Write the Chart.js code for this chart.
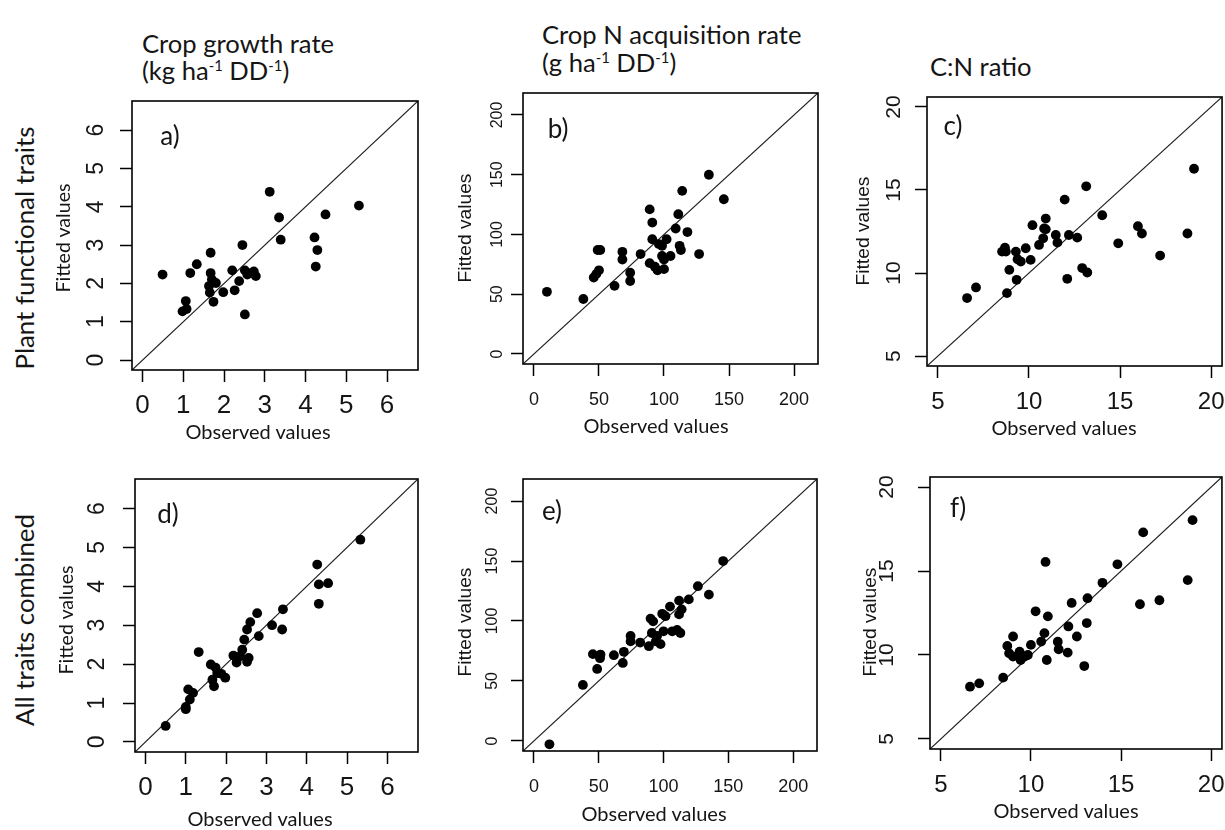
<!DOCTYPE html>
<html><head><meta charset="utf-8">
<script src="https://cdn.jsdelivr.net/npm/chart.js@4.4.1/dist/chart.umd.min.js"></script>
<style>
html,body{margin:0;padding:0;background:#fff;}
body{width:1225px;height:830px;overflow:hidden;position:relative;}
canvas.pc{position:absolute;}
.t{position:absolute;white-space:nowrap;color:#151515;line-height:1;}
.t sup{font-size:0.58em;vertical-align:0.6em;line-height:0;}
</style></head><body>
<script>
// ---- data ----
const obsA = [0.49,1.17,1.33,0.98,1.06,1.08,1.67,1.67,1.70,1.63,1.80,1.65,1.74,1.98,2.20,2.26,2.37,2.45,2.51,2.51,2.57,2.73,2.78,2.65,3.12,3.35,3.39,4.22,4.29,4.25,4.49,5.31];
const fitA = [2.23,2.27,2.50,1.27,1.54,1.33,2.80,2.27,2.10,1.93,2.01,1.76,1.52,1.77,2.34,1.82,2.06,3.00,2.34,1.19,2.23,2.31,2.19,2.27,4.39,3.72,3.14,3.20,2.87,2.44,3.80,4.03];
const obsD = [0.50,1.00,1.00,1.06,1.10,1.18,1.32,1.62,1.66,1.70,1.74,1.78,1.88,1.98,2.18,2.26,2.35,2.40,2.45,2.52,2.56,2.52,2.60,2.77,2.81,3.14,3.39,3.41,4.26,4.30,4.30,4.53,5.33];
const fitD = [0.41,0.84,0.90,1.35,1.09,1.26,2.31,1.99,1.60,1.43,1.91,1.77,1.75,1.65,2.22,2.04,2.20,2.37,2.63,2.06,2.16,2.89,3.08,3.31,2.72,3.00,2.89,3.41,4.56,4.05,3.55,4.08,5.20];
const obsB = [10,38,46,49,51,50,48,62,68,68,74,74,82,89,89,91,91,93,95,96,98.5,98.5,100,100,102,105,109,111,112,113,114,118,127,134.5,146];
const fitB = [52,46,64,87,87,70,67,57,85.5,79,68,61,83.6,76,121,110,96,73,70,92,90.5,82,79,71,96,82,105,117,90.5,87,136.5,102,83.6,150,129.5];
const obsE = [12,37.8,45.5,48.8,51,51.4,61.7,68.6,69.4,74.6,74.6,82,88.7,90,92,91,94,95,97.7,99,100,101.5,105,106.7,110.5,112,112,114,113,119.5,126.5,135,146];
const fitE = [-2.8,46.7,72.4,60,69,72,71.5,65,74.3,87.5,83,82,79,102,99.7,90,83,87.5,80.7,106,91.4,104,112,91.4,92.5,117,105.5,109.7,90,118,129,122,150];
const obsC = [6.6,7.09,8.52,8.68,8.79,8.92,8.73,9.28,9.32,9.37,9.55,9.82,10.09,10.19,10.55,10.78,10.83,10.92,10.92,11.47,11.56,11.96,12.19,12.1,12.65,12.92,13.2,13.14,14.02,14.9,15.98,16.2,17.2,18.7,19.06];
const fitC = [8.49,9.13,11.29,11.53,8.79,10.19,11.29,11.29,9.59,10.83,10.69,11.49,10.79,12.88,11.69,12.09,12.68,13.28,12.64,12.29,11.83,14.42,12.29,9.65,12.13,10.3,10.03,15.22,13.48,11.79,12.82,12.38,11.05,12.38,16.28];
const obsF = [6.62,7.13,8.46,8.69,8.79,9.01,9.01,9.37,9.43,9.65,9.83,10.0,10.26,10.57,10.75,10.81,10.88,10.94,11.49,11.54,12.04,12.08,12.26,12.55,12.96,13.1,13.14,13.97,14.8,16.05,16.23,17.13,18.7,18.97];
const fitF = [8.11,8.31,8.65,10.54,10.1,11.1,9.9,10.2,9.7,9.9,10.0,10.6,12.6,10.8,11.3,15.54,9.7,12.3,10.79,10.34,10.14,11.7,13.1,11.1,9.34,11.9,13.38,14.3,15.4,13.02,17.3,13.26,14.46,18.03];

const ticksA = [0,1,2,3,4,5,6];
const ticksB = [0,50,100,150,200];
const ticksC = [5,10,15,20];
const limA = [-0.26, 6.76];
const limB = [-8.4, 218.4];
const limC = [4.4, 20.6];

const panelLabels = ['a)','b)','c)','d)','e)','f)'];
const rowLabels = ['Plant functional traits','All traits combined'];
const xTitle = 'Observed values';
const yTitle = 'Fitted values';

// ---- layout ----
const CAL = 'Lato, "Open Sans", sans-serif';
const ARI = '"Liberation Sans", Arial, sans-serif';
const PADL = 60, PADT = 10, PADR = 14, PADB = 60;

const panels = [
  {box:[132,101,418,370], obs:obsA, fit:fitA, lim:limA, ticks:ticksA, xFont:26, yFont:23, yOff:-35, lab:[170,135],
   xt:[258,431], yt:[63,238,CAL]},
  {box:[523,93,818,364], obs:obsB, fit:fitB, lim:limB, ticks:ticksB, xFont:18, yFont:16, yOff:-25, lab:[558,128],
   xt:[656,425], yt:[465,228,ARI]},
  {box:[927,97,1223,366], obs:obsC, fit:fitC, lim:limC, ticks:ticksC, xFont:24, yFont:21, yOff:-33, lab:[953,125],
   xt:[1064,427], yt:[863,231,ARI]},
  {box:[135,479,418,752], obs:obsD, fit:fitD, lim:limA, ticks:ticksA, xFont:26, yFont:23, yOff:-37, lab:[168,513],
   xt:[260,818], yt:[66,620,CAL]},
  {box:[523,479,817,751], obs:obsE, fit:fitE, lim:limB, ticks:ticksB, xFont:18, yFont:16, yOff:-30, lab:[552,510],
   xt:[654,813], yt:[465,622,ARI]},
  {box:[930,477,1223,749], obs:obsF, fit:fitF, lim:limC, ticks:ticksC, xFont:24, yFont:21, yOff:-43, lab:[958,507],
   xt:[1066,810], yt:[870,622,ARI]}
];

const framePlugin = {
  id:'frame',
  afterDraw(chart, args, o){
    const ctx = chart.ctx, a = chart.chartArea, ys = chart.scales.y;
    ctx.save();
    ctx.strokeStyle = '#000'; ctx.lineWidth = 1.6;
    ctx.strokeRect(a.left, a.top, a.right - a.left, a.bottom - a.top);
    ctx.fillStyle = '#151515';
    ctx.font = o.yFont + 'px ' + ARI;
    ctx.textAlign = 'center'; ctx.textBaseline = 'middle';
    ys.ticks.forEach(t => {
      const py = ys.getPixelForValue(t.value);
      ctx.save();
      ctx.translate(a.left + o.yOff, py);
      ctx.rotate(-Math.PI/2);
      ctx.fillText(String(t.value), 0, 0);
      ctx.restore();
    });
    ctx.restore();
  }
};

function makePanel(p){
  const [l,t,r,b] = p.box;
  const cv = document.createElement('canvas');
  cv.className = 'pc';
  const W = (r-l) + PADL + PADR, H = (b-t) + PADT + PADB;
  cv.width = W; cv.height = H;
  cv.style.left = (l-PADL)+'px'; cv.style.top = (t-PADT)+'px';
  cv.style.width = W+'px'; cv.style.height = H+'px';
  document.body.appendChild(cv);
  const pts = p.obs.map((x,i)=>({x:x, y:p.fit[i]}));
  const diag = [{x:p.lim[0], y:p.lim[0]}, {x:p.lim[1], y:p.lim[1]}];
  const gridOpt = {drawOnChartArea:false, drawTicks:true, tickLength:12, tickColor:'#000', tickWidth:1.5, color:'#000'};
  new Chart(cv, {
    type:'scatter',
    data:{datasets:[
      {data:diag, showLine:true, borderColor:'#1e1e1e', borderWidth:1.2, pointRadius:0, order:2},
      {data:pts, backgroundColor:'#000', borderColor:'#000', pointRadius:4.9, pointBorderWidth:0, order:1}
    ]},
    options:{
      responsive:false, animation:false, devicePixelRatio:1, events:[],
      layout:{padding:{left:0, top:PADT, right:PADR, bottom:0}},
      plugins:{legend:{display:false}, tooltip:{enabled:false}, frame:{yOff:p.yOff, yFont:p.yFont}},
      scales:{
        x:{type:'linear', bounds:'data', min:p.lim[0], max:p.lim[1],
           afterBuildTicks:s=>{ s.ticks = p.ticks.map(v=>({value:v})); },
           afterFit:s=>{ s.height = PADB; },
           ticks:{font:{family:ARI, size:p.xFont, lineHeight:1}, color:'#151515', padding:36-12-p.xFont/2,
                  maxRotation:0, minRotation:0, autoSkip:false, callback:v=>String(v)},
           grid:gridOpt, border:{display:false}},
        y:{type:'linear', bounds:'data', min:p.lim[0], max:p.lim[1],
           afterBuildTicks:s=>{ s.ticks = p.ticks.map(v=>({value:v})); },
           afterFit:s=>{ s.width = PADL; },
           ticks:{display:false},
           grid:gridOpt, border:{display:false}}
      }
    },
    plugins:[framePlugin]
  });
}

function txt(html, x, y, font, size, opt){
  opt = opt || {};
  const d = document.createElement('div');
  d.className = 't';
  d.innerHTML = html;
  d.style.fontFamily = font;
  d.style.left = x+'px'; d.style.top = y+'px';
  document.body.appendChild(d);
  if (opt.w){ d.style.fontSize = '100px'; const w0 = d.offsetWidth; size = 100*opt.w/w0; }
  d.style.fontSize = size+'px';
  let tr = opt.left ? 'translate(0,-50%)' : 'translate(-50%,-50%)';
  if (opt.rot) tr += ' rotate(-90deg)';
  d.style.transform = tr;
  return size;
}

panels.forEach(makePanel);

// row labels
const rs = txt(rowLabels[0], 25, 248, CAL, 0, {w:243, rot:true});
txt(rowLabels[1], 25, 620, CAL, rs, {rot:true});
// column titles
const ts = txt('Crop growth rate', 142, 44, CAL, 0, {left:true, w:192});
txt('(kg ha<sup>-1</sup> DD<sup>-1</sup>)', 142, 71, CAL, ts, {left:true});
txt('Crop N acquisition rate', 542, 35, CAL, ts, {left:true});
txt('(g ha<sup>-1</sup> DD<sup>-1</sup>)', 542, 63, CAL, ts, {left:true});
txt('C:N ratio', 930, 67, CAL, ts, {left:true});

panels.forEach((p,i)=>{
  txt(panelLabels[i], p.lab[0], p.lab[1], CAL, 26);
  txt(xTitle, p.xt[0], p.xt[1], CAL, 0, {w:145});
  txt(yTitle, p.yt[0], p.yt[1], p.yt[2], 0, {w:109, rot:true});
});
</script>
</body></html>
